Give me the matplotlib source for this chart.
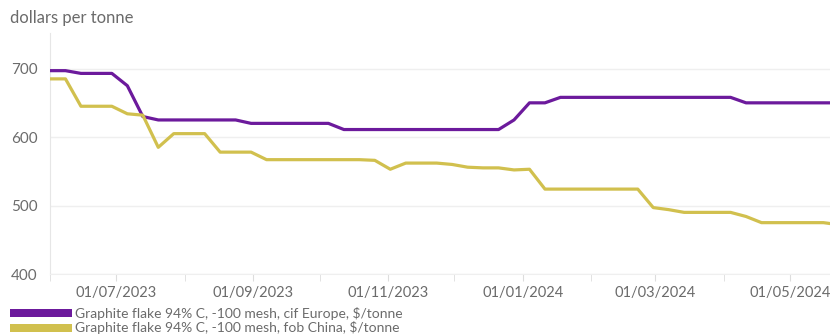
import numpy as np
import pandas as pd
import matplotlib
matplotlib.use('Agg')
from matplotlib import pyplot as plt
import matplotlib.dates as mdates
from matplotlib.patches import Rectangle

# weekly price assessments, $/tonne
dates = pd.date_range('2023-06-01', periods=52, freq='7D')
europe = [697, 697, 693, 693, 693, 675, 630, 625, 625, 625,
          625, 625, 625, 620, 620, 620, 620, 620, 620, 611,
          611, 611, 611, 611, 611, 611, 611, 611, 611, 611,
          625, 650, 650, 658, 658, 658, 658, 658, 658, 658,
          658, 658, 658, 658, 658, 650, 650, 650, 650, 650,
          650, 650]
china = [685, 685, 645, 645, 645, 634, 632, 585, 605, 605,
         605, 578, 578, 578, 567, 567, 567, 567, 567, 567,
         567, 566, 553, 562, 562, 562, 560, 556, 555, 555,
         552, 553, 524, 524, 524, 524, 524, 524, 524, 497,
         494, 490, 490, 490, 490, 484, 475, 475, 475, 475,
         475, 472]
labels = ['Graphite flake 94% C, -100 mesh, cif Europe, $/tonne',
          'Graphite flake 94% C, -100 mesh, fob China, $/tonne']
colors = ['#6c1a9c', '#d1c04e']
yticks = [400, 500, 600, 700]

plt.rcParams['font.family'] = ['Lato', 'DejaVu Sans']
text_col = '#6b6b6b'

W, H = 830, 336
fig = plt.figure(figsize=(W / 100, H / 100), dpi=100)
ax = fig.add_axes([50 / W, 62 / H, 1 - 50 / W, (274 - 33) / H])

for vals, c in zip([europe, china], colors):
    ax.plot(dates, vals, color=c, lw=2.3, solid_joinstyle='round',
            solid_capstyle='round', zorder=3)

ax.set_xlim(pd.Timestamp('2023-06-01'), pd.Timestamp('2024-05-19'))
ax.set_ylim(400, 752)
ax.set_yticks(yticks)
ax.grid(axis='y', color='#efefef', lw=1)
ax.set_axisbelow(True)

ax.xaxis.set_major_locator(mdates.MonthLocator(bymonth=[1, 3, 5, 7, 9, 11]))
ax.xaxis.set_major_formatter(mdates.DateFormatter('%d/%m/%Y'))
ax.xaxis.set_minor_locator(mdates.MonthLocator())
ax.tick_params(axis='x', which='both', length=5, color='#dddddd',
               labelsize=10.5, labelcolor=text_col, pad=4)
ax.tick_params(axis='y', length=0, labelsize=11, labelcolor=text_col, pad=9)

for side in ['top', 'right']:
    ax.spines[side].set_visible(False)
ax.spines['left'].set_color('#e6e6e6')
ax.spines['bottom'].set_color('#efefef')

fig.text(10 / W, 1 - 18 / H, 'dollars per tonne', fontsize=12, color=text_col,
         va='center', ha='left')

# legend swatches along the bottom
for i, (lab, c) in enumerate(zip(labels, colors)):
    yc = 313 + i * 15
    fig.add_artist(Rectangle((10 / W, 1 - (yc + 4) / H), 62 / W, 8 / H,
                             transform=fig.transFigure, color=c, lw=0))
    fig.text(75 / W, 1 - yc / H, lab, fontsize=10, color=text_col,
             va='center', ha='left')

fig.savefig('out.png', dpi=100)
